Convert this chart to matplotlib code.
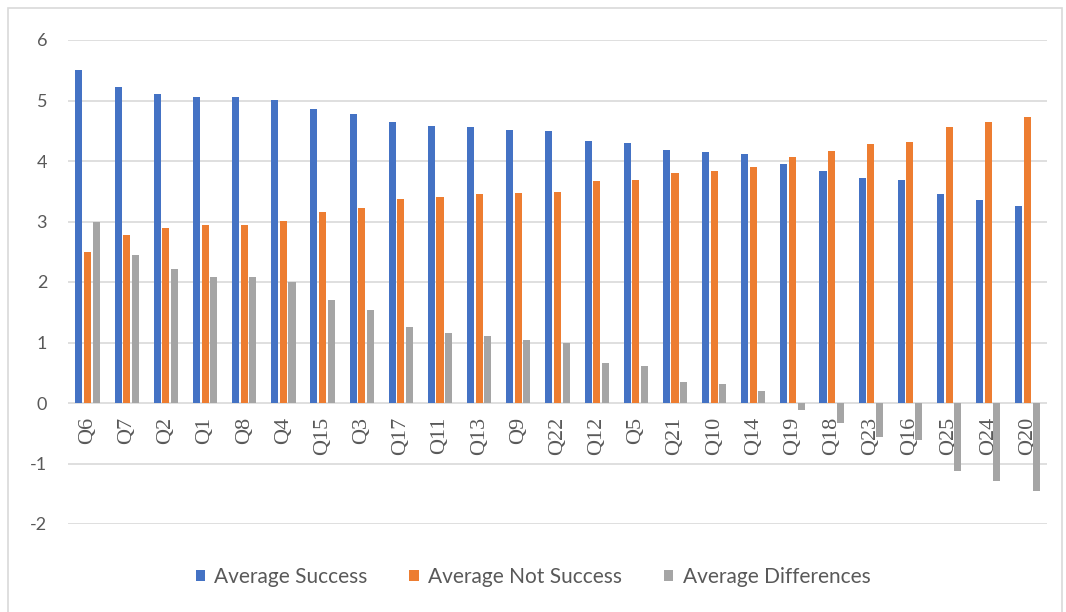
import matplotlib.pyplot as plt
from matplotlib.patches import Rectangle
import numpy as np

questions = ["Q6", "Q7", "Q2", "Q1", "Q8", "Q4", "Q15", "Q3", "Q17", "Q11", "Q13",
             "Q9", "Q22", "Q12", "Q5", "Q21", "Q10", "Q14", "Q19", "Q18", "Q23",
             "Q16", "Q25", "Q24", "Q20"]
avg_success = [5.50, 5.22, 5.11, 5.06, 5.06, 5.01, 4.86, 4.78, 4.64, 4.58, 4.56,
               4.51, 4.50, 4.33, 4.30, 4.18, 4.15, 4.12, 3.95, 3.83, 3.72,
               3.69, 3.45, 3.36, 3.26]
avg_not_success = [2.50, 2.78, 2.89, 2.94, 2.94, 3.01, 3.16, 3.22, 3.37, 3.40, 3.45,
                   3.47, 3.49, 3.67, 3.69, 3.80, 3.83, 3.90, 4.07, 4.17, 4.28,
                   4.31, 4.56, 4.64, 4.73]
avg_diff = [3.00, 2.45, 2.21, 2.08, 2.08, 2.00, 1.70, 1.54, 1.26, 1.16, 1.11,
            1.04, 1.00, 0.66, 0.61, 0.35, 0.31, 0.20, -0.12, -0.33, -0.56,
            -0.61, -1.12, -1.29, -1.45]
yticks = [-2, -1, 0, 1, 2, 3, 4, 5, 6]

plt.rcParams['font.family'] = ['Lato', 'DejaVu Sans']
fig = plt.figure(figsize=(10.66, 6.12), dpi=100)
fig.patches.append(Rectangle((8 / 1066, -0.01), 1054 / 1066, 1 - 8 / 612 + 0.01,
                             transform=fig.transFigure, fill=False,
                             edgecolor='#d9d9d9', linewidth=1.2))
ax = fig.add_axes([68 / 1066, 1 - 524 / 612, 979 / 1066, 484 / 612])

x = np.arange(len(questions))
w = 0.18
off = 0.22
ax.bar(x - off, avg_success, w, color='#4472C4', label='Average Success', zorder=3)
ax.bar(x, avg_not_success, w, color='#ED7D31', label='Average Not Success', zorder=3)
ax.bar(x + off, avg_diff, w, color='#A5A5A5', label='Average Differences', zorder=3)

ax.set_xlim(-0.5, len(questions) - 0.5)
ax.set_ylim(-2, 6)
ax.set_yticks(yticks)
ax.set_yticklabels([str(t) for t in yticks])
ax.grid(axis='y', color='#d9d9d9', linewidth=1.2, zorder=0)
ax.tick_params(axis='y', length=0, pad=15, labelsize=13, labelcolor='#595959')
ax.set_xticks([])
for s in ax.spines.values():
    s.set_visible(False)

# category labels sit just under the zero line, behind the negative bars
for xi, q in zip(x, questions):
    ax.annotate(q, (xi, 0), xytext=(0, -10), textcoords='offset points',
                rotation=90, ha='center', va='top', fontsize=16, color='#595959',
                family='Liberation Serif', zorder=2)

fig.legend(loc='center', bbox_to_anchor=(0.5, 1 - 577 / 612), ncol=3, frameon=False,
           fontsize=15, handlelength=0.45, handleheight=0.45, handletextpad=0.45,
           columnspacing=2.0, labelcolor='#595959')

fig.savefig('out.png', dpi=100)
